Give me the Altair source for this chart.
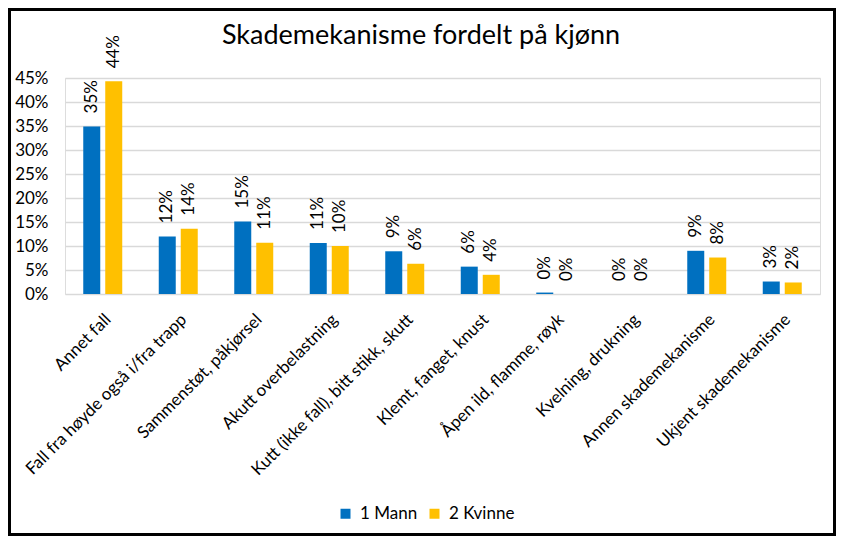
import altair as alt
import pandas as pd

title_text = "Skademekanisme fordelt på kjønn"
categories = [
    "Annet fall",
    "Fall fra høyde også i/fra trapp",
    "Sammenstøt, påkjørsel",
    "Akutt overbelastning",
    "Kutt (ikke fall), bitt stikk, skutt",
    "Klemt, fanget, knust",
    "Åpen ild, flamme, røyk",
    "Kvelning, drukning",
    "Annen skademekanisme",
    "Ukjent skademekanisme",
]
mann = [0.349, 0.120, 0.151, 0.106, 0.089, 0.057, 0.003, 0.0, 0.090, 0.026]
kvinne = [0.443, 0.136, 0.107, 0.100, 0.063, 0.040, 0.0, 0.0, 0.076, 0.024]
series = ["1 Mann", "2 Kvinne"]
colors = ["#0070C0", "#FFC000"]
y_ticks = [0, 0.05, 0.10, 0.15, 0.20, 0.25, 0.30, 0.35, 0.40, 0.45]

rows = []
for i, c in enumerate(categories):
    rows.append({"cat": c, "serie": series[0], "v": mann[i]})
    rows.append({"cat": c, "serie": series[1], "v": kvinne[i]})
df = pd.DataFrame(rows)

FONT = "Lato"
FS = 17
W, H = 755, 216
PL, PT, PR, PB = 57, 70, 16, 242

x = alt.X("cat:N", sort=categories, title=None,
          scale=alt.Scale(paddingInner=0, paddingOuter=0),
          axis=alt.Axis(labelAngle=-45, labelLimit=400, labelFontSize=FS,
                        labelFont=FONT, labelColor="#000000", ticks=False,
                        domain=False, labelPadding=17, labelOverlap=False))
xo = alt.XOffset("serie:N", sort=series,
                 scale=alt.Scale(paddingInner=0.227, paddingOuter=0.83))
y = alt.Y("v:Q", title=None,
          scale=alt.Scale(domain=[0, 0.45], nice=False),
          axis=alt.Axis(values=y_ticks, tickCount=20, format=".0%", labelFontSize=FS,
                        labelFont=FONT, labelColor="#000000", ticks=False,
                        domain=False, gridColor="#D9D9D9", gridWidth=1.5,
                        labelPadding=17, labelOverlap=False))

base = alt.Chart(df)

bars = base.mark_bar().encode(
    x=x, xOffset=xo, y=y,
    color=alt.Color("serie:N", sort=series,
                    scale=alt.Scale(domain=series, range=colors),
                    legend=alt.Legend(title=None, orient="none", direction="horizontal",
                                      legendX=272, legendY=427, labelFontSize=FS,
                                      labelFont=FONT, labelColor="#000000",
                                      symbolType="square", symbolSize=100,
                                      symbolStrokeWidth=0, columnPadding=8,
                                      labelOffset=6)),
)

labels = base.mark_text(angle=270, align="left", baseline="middle", dx=13,
                        fontSize=FS, font=FONT, color="#000000").encode(
    x=alt.X("cat:N", sort=categories),
    xOffset=alt.XOffset("serie:N", sort=series),
    y=alt.Y("v:Q"),
    text=alt.Text("v:Q", format=".0%"),
)

one = pd.DataFrame({"a": [0]})

title = alt.Chart(one).mark_text(align="center", baseline="alphabetic",
                                 fontSize=27, font=FONT, color="#000000").encode(
    x=alt.value(356), y=alt.value(-34), text=alt.value(title_text),
)

border = alt.Chart(one).mark_rect(
    fill=None, stroke="#000000", strokeWidth=3).encode(
    x=alt.value(-PL + 1.5), x2=alt.value(W + PR - 1.5),
    y=alt.value(-PT + 1.5), y2=alt.value(H + PB - 1.5),
)

chart = alt.layer(bars, labels, title, border).properties(
    width=W, height=H,
    autosize=alt.AutoSizeParams(type="none"),
    padding={"left": PL, "top": PT, "right": PR, "bottom": PB},
).configure_view(stroke=None).configure(background="white")

chart.save("out.html", embed_options={"renderer": "svg", "actions": False})
